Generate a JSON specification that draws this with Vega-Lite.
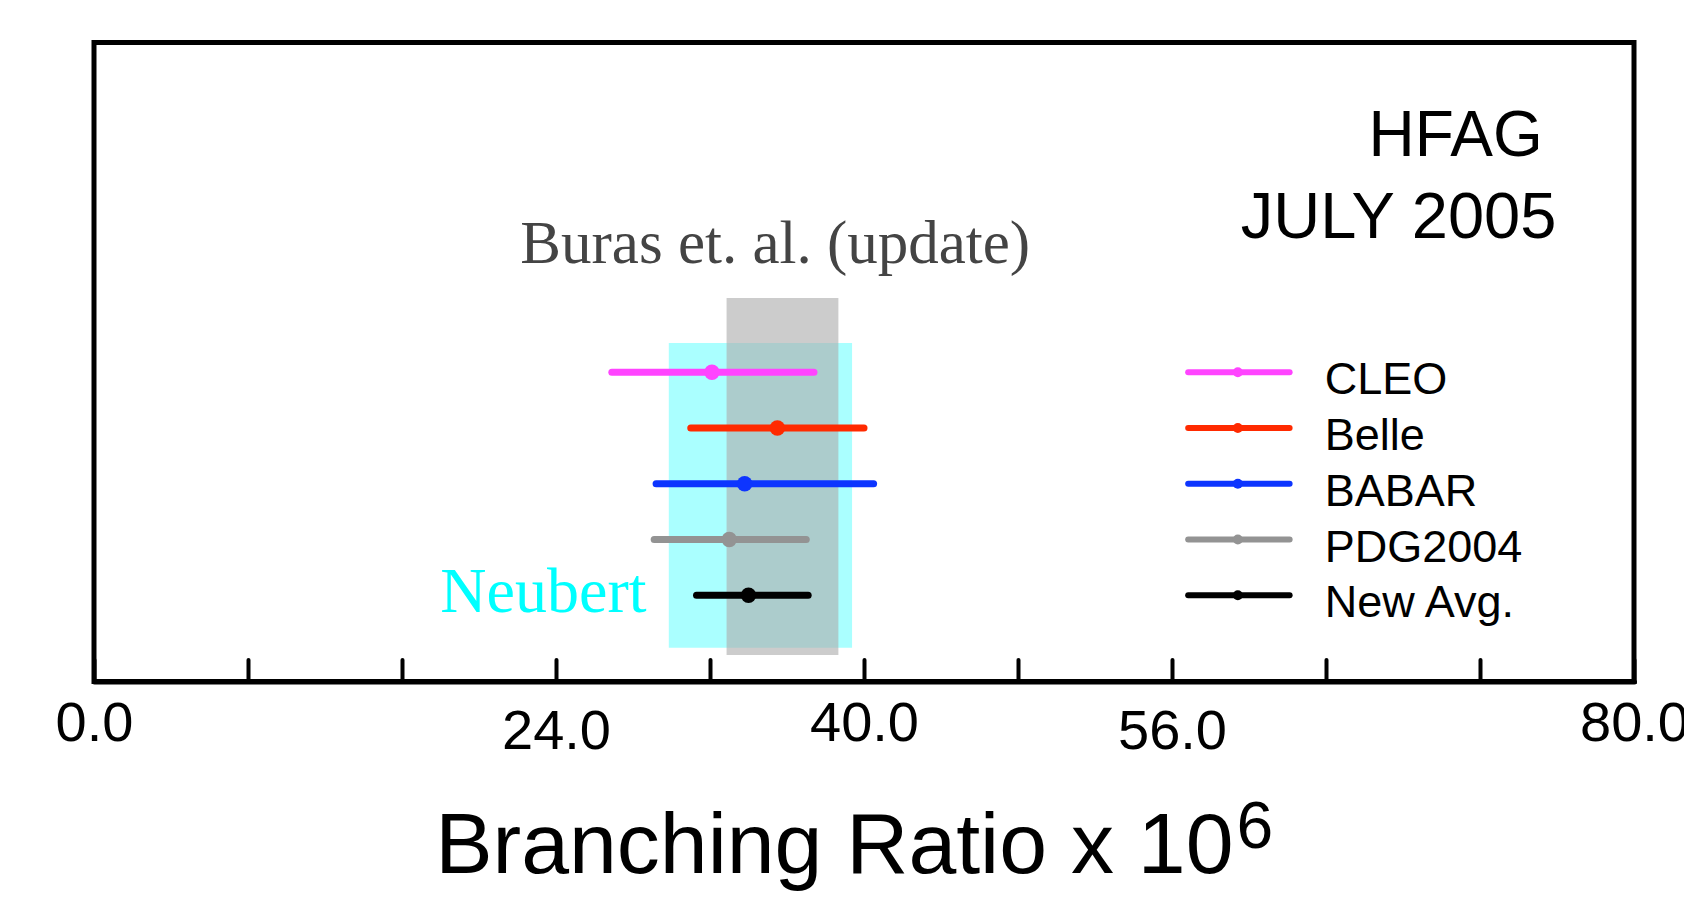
{
  "$schema": "https://vega.github.io/schema/vega-lite/v6.json",
  "width": 1540,
  "height": 639,
  "autosize": {"type": "none"},
  "padding": {"left": 94, "top": 42.5, "right": 50, "bottom": 234.5},
  "background": "white",
  "config": {"view": {"stroke": "black", "strokeWidth": 5}, "font": "Liberation Sans"},
  "datasets": {
    "meas": [
      {"experiment": "CLEO", "value": 32.1, "low": 26.9, "high": 37.4},
      {"experiment": "Belle", "value": 35.5, "low": 31.0, "high": 40.0},
      {"experiment": "BABAR", "value": 33.8, "low": 29.2, "high": 40.5},
      {"experiment": "PDG2004", "value": 33.0, "low": 29.1, "high": 37.0},
      {"experiment": "New Avg.", "value": 34.0, "low": 31.3, "high": 37.1}
    ],
    "theory": [
      {"model": "Neubert", "low": 29.86, "high": 39.38},
      {"model": "Buras et. al. (update)", "low": 32.86, "high": 38.67}
    ],
    "notes": [
      {"note": "HFAG"},
      {"note": "JULY 2005"},
      {"note": "6"}
    ]
  },
  "layer": [
    {
      "layer": [
        {
          "data": {"name": "theory"},
          "transform": [{"filter": "datum.model == 'Neubert'"}],
          "mark": {"type": "rect", "color": "#aaffff"},
          "encoding": {
            "x": {
              "field": "low", "type": "quantitative",
              "scale": {"domain": [0, 80], "nice": false, "zero": false},
              "axis": {
                "values": [0, 8, 16, 24, 32, 40, 48, 56, 64, 72, 80],
                "labelExpr": "indexof([0,24,40,56,80], datum.value) >= 0 ? format(datum.value, '.1f') : ''",
                "labelFont": "Liberation Sans", "labelFontSize": 56, "labelColor": "black", "labelAngle": 0,
                "labelPadding": {"condition": {"test": "datum.value == 24 || datum.value == 56", "value": 44.5}, "value": 36.5},
                "labelOverlap": false, "labelFlush": false, "labelBound": false,
                "domain": true, "domainColor": "black", "domainWidth": 5, "domainCap": "round",
                "ticks": true, "tickSize": -22, "tickWidth": 4, "tickColor": "black", "tickCap": "round",
                "grid": false,
                "title": "Branching Ratio x 10", "titleFont": "Liberation Sans", "titleFontSize": 86,
                "titleFontWeight": "normal", "titleColor": "black", "titleAlign": "right",
                "titleBaseline": "alphabetic", "titleX": 1139, "titleY": 190.5
              }
            },
            "x2": {"field": "high"},
            "y": {"datum": 52.97, "type": "quantitative", "scale": {"domain": [0, 100], "nice": false, "zero": false}, "axis": null},
            "y2": {"datum": 5.29}
          }
        },
        {
          "data": {"name": "theory"},
          "transform": [{"filter": "datum.model == 'Buras et. al. (update)'"}],
          "mark": {"type": "rect", "color": "#adadad", "opacity": 0.62},
          "encoding": {
            "x": {"field": "low", "type": "quantitative"},
            "x2": {"field": "high"},
            "y": {"datum": 60.02, "type": "quantitative"},
            "y2": {"datum": 4.15}
          }
        },
        {
          "data": {"name": "theory"},
          "transform": [{"filter": "datum.model == 'Buras et. al. (update)'"}],
          "mark": {"type": "text", "font": "Liberation Serif", "fontSize": 61, "color": "#444444", "align": "center", "baseline": "alphabetic"},
          "encoding": {
            "x": {"datum": 35.39, "type": "quantitative"},
            "y": {"datum": 65.5, "type": "quantitative"},
            "text": {"field": "model"}
          }
        },
        {
          "data": {"name": "theory"},
          "transform": [{"filter": "datum.model == 'Neubert'"}],
          "mark": {"type": "text", "font": "Liberation Serif", "fontSize": 64, "color": "#00ffff", "align": "right", "baseline": "alphabetic"},
          "encoding": {
            "x": {"datum": 28.7, "type": "quantitative"},
            "y": {"datum": 10.92, "type": "quantitative"},
            "text": {"field": "model"}
          }
        },
        {
          "data": {"name": "notes"},
          "transform": [{"filter": "datum.note == 'HFAG'"}],
          "mark": {"type": "text", "fontSize": 64, "color": "black", "align": "center", "baseline": "alphabetic"},
          "encoding": {
            "x": {"datum": 70.73, "type": "quantitative"},
            "y": {"datum": 82.24, "type": "quantitative"},
            "text": {"field": "note"}
          }
        },
        {
          "data": {"name": "notes"},
          "transform": [{"filter": "datum.note == 'JULY 2005'"}],
          "mark": {"type": "text", "fontSize": 65, "color": "black", "align": "center", "baseline": "alphabetic"},
          "encoding": {
            "x": {"datum": 67.77, "type": "quantitative"},
            "y": {"datum": 69.36, "type": "quantitative"},
            "text": {"field": "note"}
          }
        },
        {
          "data": {"name": "notes"},
          "transform": [{"filter": "datum.note == '6'"}],
          "mark": {"type": "text", "fontSize": 66, "color": "black", "align": "left", "baseline": "alphabetic"},
          "encoding": {
            "x": {"datum": 59.35, "type": "quantitative"},
            "y": {"datum": -26.1, "type": "quantitative"},
            "text": {"field": "note"}
          }
        }
      ]
    },
    {
      "data": {"name": "meas"},
      "encoding": {
        "y": {
          "field": "experiment", "type": "nominal",
          "sort": ["CLEO", "Belle", "BABAR", "PDG2004", "New Avg."],
          "scale": {"type": "point", "padding": 0, "range": [329.8, 552.8]},
          "axis": null
        },
        "color": {
          "field": "experiment", "type": "nominal",
          "scale": {"domain": ["CLEO", "Belle", "BABAR", "PDG2004", "New Avg."], "range": ["#ff44ff", "#ff2a00", "#0d35ff", "#939393", "#000000"]},
          "legend": null
        }
      },
      "layer": [
        {
          "mark": {"type": "rule", "strokeWidth": 7, "strokeCap": "round"},
          "encoding": {"x": {"field": "low", "type": "quantitative"}, "x2": {"field": "high"}}
        },
        {
          "mark": {"type": "point", "filled": true, "opacity": 1, "size": 240, "shape": "circle"},
          "encoding": {"x": {"field": "value", "type": "quantitative"}}
        },
        {
          "mark": {"type": "rule", "strokeWidth": 6, "strokeCap": "round"},
          "encoding": {"x": {"datum": 56.84, "type": "quantitative"}, "x2": {"datum": 62.11}}
        },
        {
          "mark": {"type": "point", "filled": true, "opacity": 1, "size": 100, "shape": "circle"},
          "encoding": {"x": {"datum": 59.42, "type": "quantitative"}}
        },
        {
          "mark": {"type": "text", "fontSize": 45, "align": "left", "baseline": "middle", "dy": 8},
          "encoding": {
            "x": {"datum": 63.93, "type": "quantitative"},
            "text": {"field": "experiment"},
            "color": {"value": "black"}
          }
        }
      ]
    }
  ],
  "resolve": {"scale": {"y": "independent"}}
}
